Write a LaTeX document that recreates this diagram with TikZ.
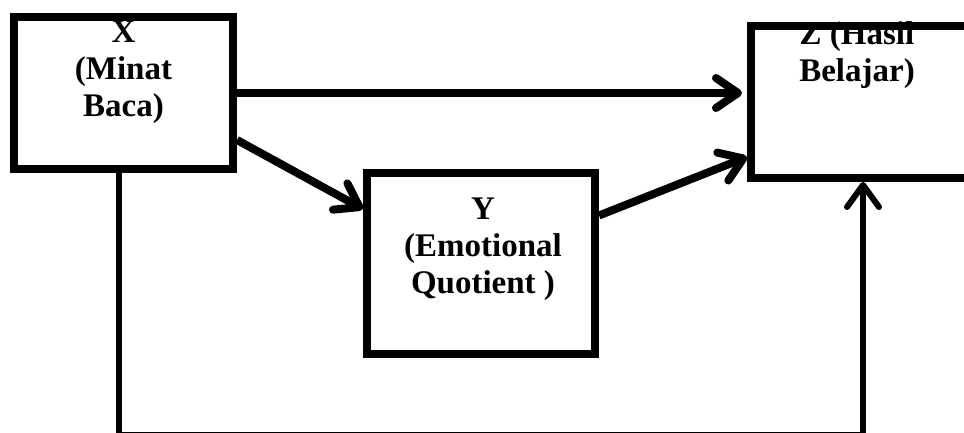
\documentclass[tikz,border=0pt]{standalone}
\usepackage{fontspec}
\setmainfont{Liberation Serif}
\usetikzlibrary{arrows.meta, positioning}

\begin{document}
\begin{tikzpicture}[
    x=1pt, y=-1pt,
    boxVar/.style={
        rectangle,
        draw=black,
        line width=8pt,
        fill=none,
        inner sep=0pt
    },
    labelText/.style={
        font=\fontsize{33}{37}\selectfont\bfseries,
        align=center,
        inner sep=0pt,
        anchor=north
    },
    arrowLine/.style={
        line width=8pt,
        -{Straight Barb[length=22pt,width=30pt,round]}
    }
]
\useasboundingbox (0,0) rectangle (964,433);

% Boxes
\node[boxVar, minimum width=219pt, minimum height=152pt] (x) at (123.5,93) {};
\node[boxVar, minimum width=228pt, minimum height=181pt] (y) at (481,263.5) {};
\node[boxVar, minimum width=221pt, minimum height=152pt] (z) at (861.5,102) {};

% Texts
\begin{scope}
\clip (x.north west) rectangle (x.south east);
\node[labelText] (xText) at ([yshift=-8pt]x.north) {X\\(Minat\\Baca)};
\end{scope}
\begin{scope}
\clip (z.north west) rectangle (z.south east);
\node[labelText] (zText) at ([shift={(-4.5pt,1pt)}]z.north) {Z (Hasil\\Belajar)};
\end{scope}
\node[labelText] (yText) at ([shift={(2pt,-29pt)}]y.north) {Y\\(Emotional\\Quotient )};

% Arrows
\draw[arrowLine, shorten >=5pt] (x.east) -- (x.east -| z.west);
\draw[arrowLine] ([yshift=-47pt]x.east) -- ([yshift=-40pt]y.north west);
\draw[arrowLine] ([yshift=48pt]y.east) -- ([yshift=25pt]z.south west);

\coordinate (floor) at (0,435);
\draw[line width=6pt, -{Straight Barb[length=22pt,width=32pt,round]}]
    ([xshift=-4.5pt]x.south) |- ([xshift=1.5pt]floor -| z.south) -- ([xshift=1.5pt]z.south);

\end{tikzpicture}
\end{document}
